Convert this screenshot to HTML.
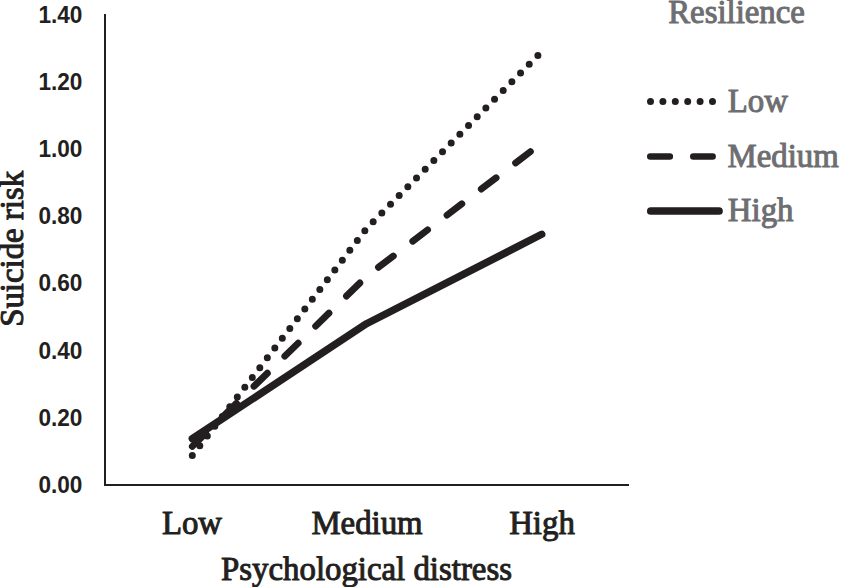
<!DOCTYPE html>
<html><head><meta charset="utf-8">
<style>
html,body{margin:0;padding:0;background:#fff;width:842px;height:587px;overflow:hidden}
svg{display:block}
.yl{font-family:"Liberation Sans",sans-serif;font-weight:bold;font-size:23.5px;fill:#231f20}
.sr{font-family:"Liberation Serif",serif;font-size:32.85px;fill:#231f20;stroke:#231f20;stroke-width:1px;stroke-linejoin:round}
.lg{font-family:"Liberation Serif",serif;font-size:32.85px;fill:#6d6e71;stroke:#6d6e71;stroke-width:1px;stroke-linejoin:round}
</style></head><body>
<svg width="842" height="587" viewBox="0 0 842 587">
<rect width="842" height="587" fill="#fff"/>
<!-- axes -->
<path d="M105 14 V485 M104 485 H629" stroke="#231f20" stroke-width="2" fill="none"/>
<!-- y labels -->
<g class="yl" text-anchor="end" transform="translate(82.4 0) scale(0.963 1)">
<text x="0" y="22.85">1.40</text>
<text x="0" y="89.99">1.20</text>
<text x="0" y="157.13">1.00</text>
<text x="0" y="224.27">0.80</text>
<text x="0" y="291.41">0.60</text>
<text x="0" y="358.55">0.40</text>
<text x="0" y="425.69">0.20</text>
<text x="0" y="492.83">0.00</text>
</g>
<!-- x labels -->
<g class="sr" text-anchor="middle">
<text x="192" y="534.2">Low</text>
<text x="367" y="534.2">Medium</text>
<text x="542" y="534.2">High</text>
<text x="366.5" y="580">Psychological distress</text>
</g>
<text class="sr" text-anchor="middle" transform="translate(22.9 248.9) rotate(-90)">Suicide risk</text>
<!-- legend -->
<text class="lg" x="668.2" y="23">Resilience</text>
<text class="lg" x="727.8" y="111.8">Low</text>
<text class="lg" x="727.5" y="166.6">Medium</text>
<text class="lg" x="727.8" y="221.4">High</text>
<g fill="none" stroke="#231f20" stroke-linecap="round" stroke-linejoin="round">
<line x1="650.5" y1="101.6" x2="712.5" y2="101.6" stroke-width="7" stroke-dasharray="0 12.4"/>
<line x1="650.3" y1="156.5" x2="712.6" y2="156.5" stroke-width="6.6" stroke-dasharray="19.5 23.5"/>
<line x1="650.8" y1="211" x2="719" y2="211" stroke-width="7.7"/>
<!-- data -->
<polyline points="192.3,455.6 367,228 541.7,51.6" stroke-width="7" stroke-dasharray="0 12.32"/>
<polyline points="192.3,446.4 367,276 541.7,143.1" stroke-width="6.8" stroke-dasharray="18.7 24.37"/>
<polyline points="192.3,438.7 366.5,323.7 541.7,234.3" stroke-width="7.4"/>
</g>
</svg>
</body></html>
